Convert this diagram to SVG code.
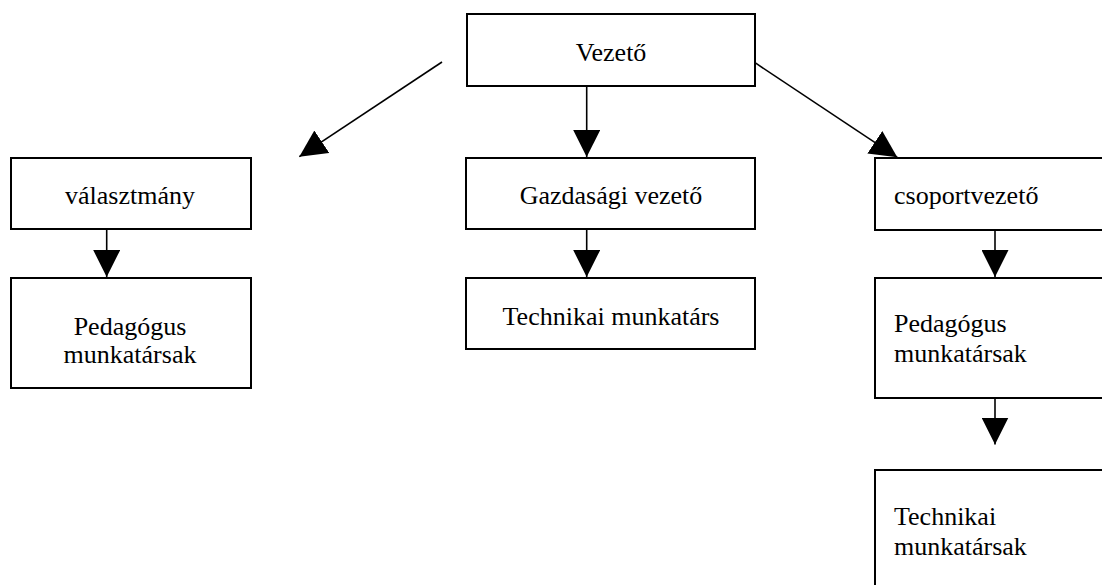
<svg xmlns="http://www.w3.org/2000/svg" width="1102" height="585" viewBox="0 0 1102 585">
<style>
.box{fill:#fff;stroke:#000;stroke-width:2}
.t{font-family:"Liberation Serif","Times New Roman",serif;font-size:26px;fill:#000}
.c{text-anchor:middle}
.ln{stroke:#000;stroke-width:1.6;fill:none;marker-end:url(#ah)}
</style>
<defs>
<marker id="ah" markerUnits="userSpaceOnUse" markerWidth="27" markerHeight="27" refX="27" refY="13.5" orient="auto">
<path d="M0,0 L27,13.5 L0,27 Z" fill="#000"/>
</marker>
</defs>
<rect width="1102" height="585" fill="#fff"/>
<g id="connectors">
<line class="ln" x1="442" y1="62" x2="299.3" y2="156.7"/>
<line class="ln" x1="755" y1="62.7" x2="897.3" y2="157.3"/>
<line class="ln" x1="586.7" y1="86" x2="586.7" y2="157"/>
<line class="ln" x1="586.7" y1="229" x2="586.7" y2="277"/>
<line class="ln" x1="106.7" y1="229" x2="106.7" y2="277"/>
<line class="ln" x1="995" y1="230" x2="995" y2="277"/>
<line class="ln" x1="995" y1="398" x2="995" y2="444.5"/>
</g>
<g id="vezeto">
<rect class="box" x="467" y="14" width="288" height="72"/>
<text class="t c" x="611" y="61">Vezető</text>
</g>
<g id="valasztmany">
<rect class="box" x="11" y="158" width="240" height="71"/>
<text class="t c" x="130" y="204">választmány</text>
</g>
<g id="gazdasagi">
<rect class="box" x="466" y="158" width="289" height="71"/>
<text class="t c" x="611" y="204">Gazdasági vezető</text>
</g>
<g id="technikai-munkatars">
<rect class="box" x="466" y="278" width="289" height="71"/>
<text class="t c" x="611" y="325">Technikai munkatárs</text>
</g>
<g id="pedagogus-left">
<rect class="box" x="11" y="278" width="240" height="110"/>
<text class="t c" x="130" y="335">Pedagógus</text>
<text class="t c" x="130" y="362.5">munkatársak</text>
</g>
<g id="csoportvezeto">
<rect class="box" x="875" y="158" width="240" height="72"/>
<text class="t" x="894" y="204">csoportvezető</text>
</g>
<g id="pedagogus-right">
<rect class="box" x="875" y="278" width="240" height="120"/>
<text class="t" x="894" y="331.5">Pedagógus</text>
<text class="t" x="894" y="361.5">munkatársak</text>
</g>
<g id="technikai-right">
<rect class="box" x="875" y="470" width="240" height="130"/>
<text class="t" x="894" y="525">Technikai</text>
<text class="t" x="894" y="555">munkatársak</text>
</g>
</svg>
